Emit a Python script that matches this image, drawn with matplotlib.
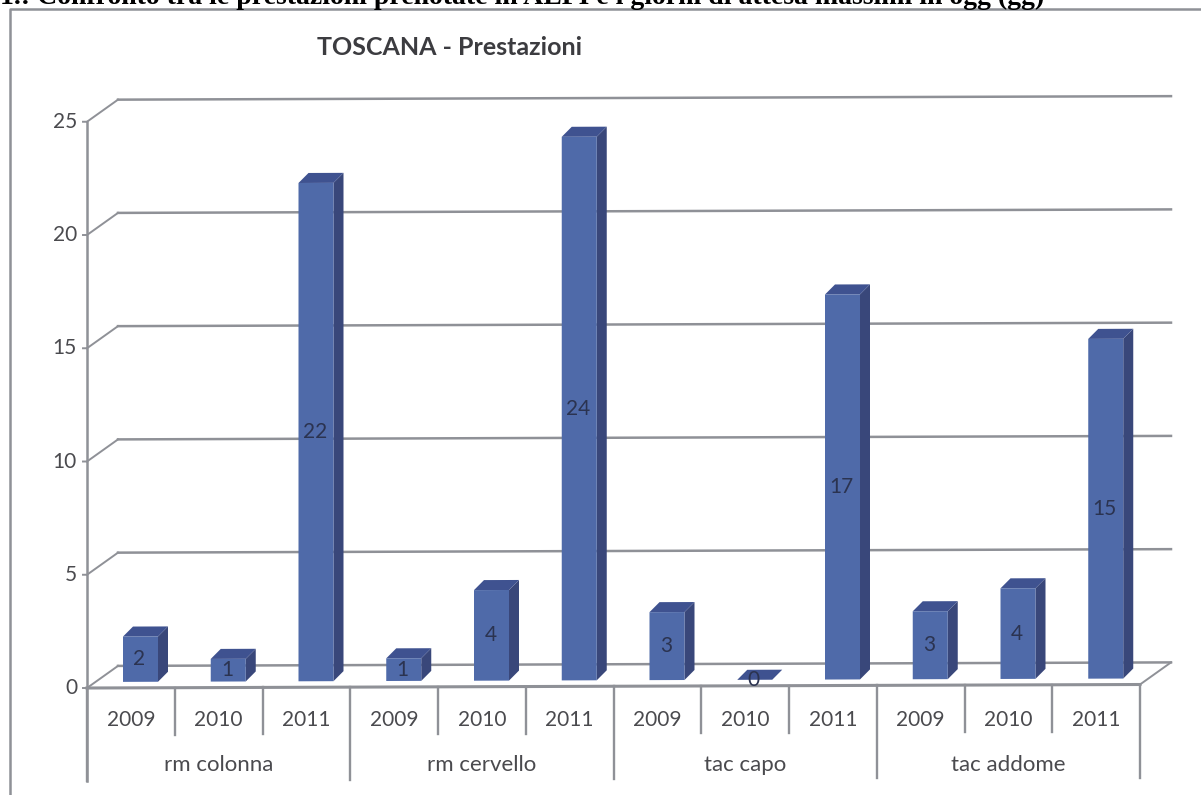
import matplotlib
matplotlib.use('Agg')
import matplotlib.pyplot as plt
from matplotlib.patches import Polygon
from matplotlib.transforms import Affine2D

years = ['2009', '2010', '2011']
groups = ['rm colonna', 'rm cervello', 'tac capo', 'tac addome']
values = [2, 1, 22, 1, 4, 24, 3, 0, 17, 3, 4, 15]
y_ticks = [0, 5, 10, 15, 20, 25]
header = '1.: Confronto tra le prestazioni prenotate in ALPI e i giorni di attesa massimi in ogg (gg)'

W, H = 1201, 795
PX_X = 87.75   # pixels per category
PX_Y = 22.65   # pixels per unit
X0, Y0 = 87, 688

plt.rcParams['font.family'] = ['Lato', 'DejaVu Sans']

fig = plt.figure(figsize=(W / 100, H / 100), dpi=100)
ax = fig.add_axes([0, 0, 1, 1])
ax.set_xlim(-X0 / PX_X, (W - X0) / PX_X)
ax.set_ylim(-(H - Y0) / PX_Y, Y0 / PX_Y)
ax.axis('off')

# the scan is slightly rotated, so everything in the plot climbs to the right
tilt = Affine2D.from_values(1, 3.5 / 12 / PX_Y, 0, 1, 0, 0) + ax.transData

line_col = '#8f9197'
text_col = '#4a4a4e'

# depth of the floor and of the bars, in data units
floor_dx, floor_dy = 31 / PX_X, 22 / PX_Y
bar_dx, bar_dy = 10 / PX_X, 10 / PX_Y
bar_w = 35 / PX_X
bar_off = 36 / PX_X
bar_base = 6 / PX_Y

# back wall gridlines and their diagonals
for v in y_ticks:
    ax.plot([floor_dx, 12 + floor_dx], [v + floor_dy, v + floor_dy], color=line_col, lw=1.8, transform=tilt)
    ax.plot([0, floor_dx], [v, v + floor_dy], color=line_col, lw=1.4, transform=tilt)
    ax.plot([-4 / PX_X, 0], [v, v], color=line_col, lw=1.4, transform=tilt)
    ax.text(-10 / PX_X, v, str(v), ha='right', va='center', fontsize=15, color=text_col)

# floor edge on the right
ax.plot([12, 12 + floor_dx], [0, floor_dy], color=line_col, lw=1.4, transform=tilt)

# axes
ax.plot([0, 0], [-93 / PX_Y, 25], color=line_col, lw=1.8, transform=tilt)
ax.plot([0, 12], [0, 0], color=line_col, lw=2.2, transform=tilt)

# multi level category axis
for i in range(13):
    low = 93 if i % 3 == 0 else 47
    ax.plot([i, i], [-low / PX_Y, 0], color=line_col, lw=1.7, transform=tilt)
for i, v in enumerate(values):
    ax.text(i + 0.5, -32 / PX_Y, years[i % 3], ha='center', va='center', fontsize=15, color=text_col)
for i, g in enumerate(groups):
    ax.text(3 * i + 1.5, -77 / PX_Y, g, ha='center', va='center', fontsize=16, color=text_col)

# bars
for i, v in enumerate(values):
    x = i + bar_off
    b = bar_base
    ax.add_patch(Polygon([(x + bar_w, b), (x + bar_w + bar_dx, b + bar_dy), (x + bar_w + bar_dx, b + v + bar_dy), (x + bar_w, b + v)],
                         closed=True, fc='#39477a', ec='none', transform=tilt, zorder=3))
    ax.add_patch(Polygon([(x, b + v), (x + bar_dx, b + v + bar_dy), (x + bar_w + bar_dx, b + v + bar_dy), (x + bar_w, b + v)],
                         closed=True, fc='#3f5290', ec='none', transform=tilt, zorder=3))
    ax.bar(x + bar_w / 2, v, bar_w, bottom=b, color='#4f6aa9', linewidth=0, transform=tilt, zorder=3)
    ax.text(x + bar_w / 2 - 1 / PX_X, b + v / 2, str(v), ha='center', va='center', fontsize=15, color='#2b3350', transform=tilt, zorder=4)

# chart frame and title
ax.plot([-77 / PX_X, -77 / PX_X, (W - X0) / PX_X], [-(H - Y0) / PX_Y, (Y0 - 9) / PX_Y, (Y0 - 9) / PX_Y], color=line_col, lw=1.8, clip_on=False)
ax.text((450 - X0) / PX_X, (Y0 - 47) / PX_Y, 'TOSCANA - Prestazioni', ha='center', va='center', fontsize=18, fontweight='bold', color='#3c3c40')

# caption of the page, cut off by the top of the scan
ax.text(-X0 / PX_X, (Y0 - 4) / PX_Y, header, ha='left', va='baseline', fontsize=20, fontweight='bold', family='Liberation Serif', color='black')

plt.savefig('out.png', dpi=100)
